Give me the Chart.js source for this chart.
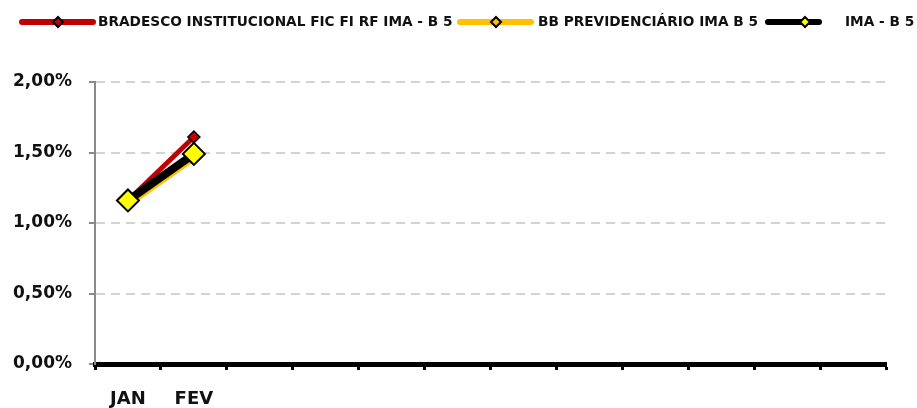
<!DOCTYPE html>
<html>
<head>
<meta charset="utf-8">
<script src="https://cdn.jsdelivr.net/npm/chart.js@4.4.0/dist/chart.umd.min.js"></script>
<style>
  html, body { margin: 0; padding: 0; background: #fff; }
</style>
</head>
<body>
<canvas id="rentabilidade" width="917" height="408"></canvas>
<script>
// categories (only JAN and FEV carry a label on the axis)
const months = ['JAN', 'FEV', '', '', '', '', '', '', '', '', '', ''];

// monthly return, in %
const bradesco = [1.16, 1.61, null, null, null, null, null, null, null, null, null, null];
const bbPrevidenciario = [1.13, 1.46, null, null, null, null, null, null, null, null, null, null];
const imaB5 = [1.16, 1.49, null, null, null, null, null, null, null, null, null, null];

// y axis ticks
const yTicks = [0, 0.5, 1, 1.5, 2];

const seriesNames = ['BRADESCO INSTITUCIONAL FIC FI RF IMA - B 5', 'BB PREVIDENCIÁRIO IMA B 5', 'IMA - B 5'];

function pct(v) {
    return v.toFixed(2).replace('.', ',') + '%';
}

// draws the legend the way the spreadsheet does it: line sample + small diamond
const legendLayout = [
    { x1: 22, x2: 93, mx: 58, tx: 98 },
    { x1: 460, x2: 531, mx: 496, tx: 538 },
    { x1: 768, x2: 819, mx: 805, tx: 845 }
];

const topLegend = {
    id: 'topLegend',
    afterDraw(chart) {
        const ctx = chart.ctx;
        const y = 22;
        chart.data.datasets.forEach((ds, i) => {
            const pos = legendLayout[i];
            ctx.save();
            ctx.strokeStyle = ds.borderColor;
            ctx.lineWidth = 6;
            ctx.lineCap = 'round';
            ctx.beginPath();
            ctx.moveTo(pos.x1, y);
            ctx.lineTo(pos.x2, y);
            ctx.stroke();

            // diamond marker
            const r = 5;
            ctx.fillStyle = ds.legendMarker;
            ctx.strokeStyle = '#000';
            ctx.lineWidth = 2;
            ctx.lineCap = 'butt';
            ctx.beginPath();
            ctx.moveTo(pos.mx, y - r);
            ctx.lineTo(pos.mx + r, y);
            ctx.lineTo(pos.mx, y + r);
            ctx.lineTo(pos.mx - r, y);
            ctx.closePath();
            ctx.fill();
            ctx.stroke();

            ctx.fillStyle = '#111';
            ctx.font = 'bold 13.7px "DejaVu Sans"';
            ctx.textBaseline = 'middle';
            ctx.textAlign = 'left';
            ctx.fillText(ds.label, pos.tx, y);
            ctx.restore();
        });
    }
};

const axisFont = { family: 'DejaVu Sans', weight: 'bold', size: 17 };

new Chart(document.getElementById('rentabilidade'), {
    type: 'line',
    data: {
        labels: months,
        datasets: [
            {
                label: seriesNames[0],
                data: bradesco,
                borderColor: '#c00000',
                borderWidth: 5,
                pointStyle: 'rectRot',
                pointRadius: 6,
                pointBackgroundColor: '#c00000',
                pointBorderColor: '#000',
                pointBorderWidth: 1.5,
                legendMarker: '#c00000',
                order: 2
            },
            {
                label: seriesNames[1],
                data: bbPrevidenciario,
                borderColor: '#ffc000',
                borderWidth: 6,
                pointStyle: 'rectRot',
                pointRadius: 5,
                pointBackgroundColor: '#ffc000',
                pointBorderColor: '#000',
                pointBorderWidth: 1.5,
                legendMarker: '#ffc000',
                order: 1
            },
            {
                label: seriesNames[2],
                data: imaB5,
                borderColor: '#000',
                borderWidth: 8,
                borderCapStyle: 'round',
                pointStyle: 'rectRot',
                pointRadius: 11,
                pointBackgroundColor: '#ffff00',
                pointBorderColor: '#000',
                pointBorderWidth: 2,
                legendMarker: '#ffff00',
                order: 0
            }
        ]
    },
    options: {
        responsive: false,
        animation: false,
        devicePixelRatio: 1,
        layout: { padding: { left: 0, right: 31, top: 82, bottom: 0 } },
        plugins: {
            legend: { display: false },
            tooltip: { enabled: false }
        },
        elements: { line: { tension: 0 } },
        scales: {
            x: {
                offset: true,
                grid: {
                    offset: true,
                    drawOnChartArea: false,
                    tickLength: 6,
                    tickWidth: 3,
                    tickColor: '#000'
                },
                border: { color: '#000', width: 5 },
                ticks: {
                    autoSkip: false,
                    maxRotation: 0,
                    padding: 19,
                    color: '#111',
                    font: { family: 'DejaVu Sans', weight: 'bold', size: 18 }
                },
                afterFit(scale) { scale.height = 44; }
            },
            y: {
                min: 0,
                max: 2,
                afterBuildTicks(scale) {
                    scale.ticks = yTicks.map(v => ({ value: v }));
                },
                grid: {
                    color: '#d4d4d4',
                    lineWidth: 2,
                    tickLength: 6,
                    tickWidth: 2,
                    tickColor: '#8a8a8a',
                    tickBorderDash: []
                },
                border: { color: '#8a8a8a', width: 2, dash: [9, 6] },
                ticks: {
                    padding: 17,
                    color: '#111',
                    font: axisFont,
                    callback: v => pct(v)
                },
                afterFit(scale) { scale.width = 95; }
            }
        }
    },
    plugins: [topLegend]
});
</script>
</body>
</html>
